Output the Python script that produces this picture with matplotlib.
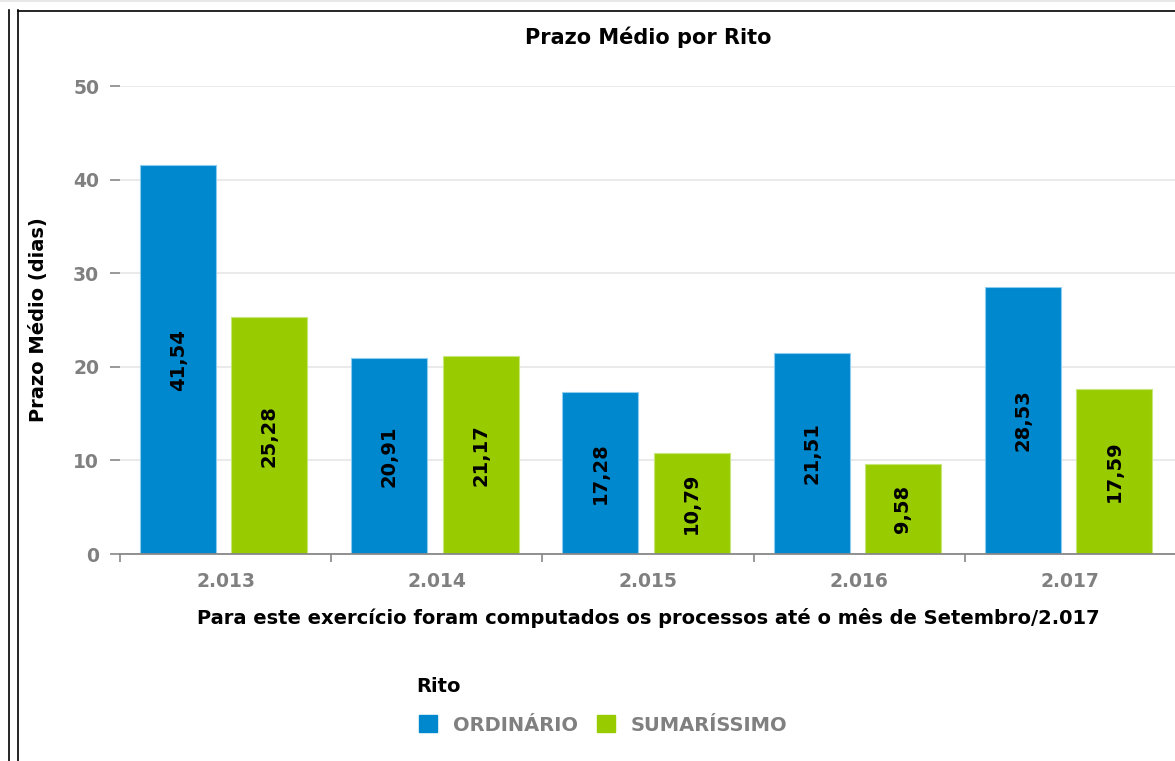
import matplotlib
matplotlib.use("Agg")
import matplotlib.pyplot as plt
from matplotlib.lines import Line2D
from matplotlib.patches import Patch
import numpy as np

# Data
years = ["2.013", "2.014", "2.015", "2.016", "2.017"]
ordinario = [41.54, 20.91, 17.28, 21.51, 28.53]
sumarissimo = [25.28, 21.17, 10.79, 9.58, 17.59]
series_names = ["ORDINÁRIO", "SUMARÍSSIMO"]
yticks = [0, 10, 20, 30, 40, 50]

W, H = 1175, 761
fig = plt.figure(figsize=(W / 100, H / 100), dpi=100)
fig.patch.set_facecolor("white")

# axes placement in pixels
left_px, right_px, top_px, bottom_px = 120, 1176, 86, 554
ax = fig.add_axes([left_px / W, 1 - bottom_px / H,
                   (right_px - left_px) / W, (bottom_px - top_px) / H])
ax.set_facecolor("white")

blue = "#0088cf"
green = "#99cc00"
x = np.arange(len(years))
bw = 0.36
b1 = ax.bar(x - 0.225, ordinario, bw, color=blue, edgecolor="#8fcdee", linewidth=0.8, zorder=3)
b2 = ax.bar(x + 0.207, sumarissimo, bw, color=green, edgecolor="#c6e67a", linewidth=0.8, zorder=3)

def fmt(v):
    return f"{v:.2f}".replace(".", ",")

for bars, vals in ((b1, ordinario), (b2, sumarissimo)):
    for rect, v in zip(bars, vals):
        ax.text(rect.get_x() + rect.get_width() / 2, v / 2, fmt(v),
                rotation=90, ha="center", va="center", fontsize=14,
                fontweight="bold", color="black", zorder=4)

ax.set_xlim(-0.5, 4.5)
ax.set_ylim(0, 50)
ax.set_yticks(yticks)
ax.set_yticklabels([str(t) for t in yticks])
ax.yaxis.grid(True, color="#e6e6e6", linewidth=1.2, zorder=0)
ax.set_axisbelow(True)

for s in ["top", "right", "left"]:
    ax.spines[s].set_visible(False)
ax.spines["bottom"].set_color("#888888")
ax.spines["bottom"].set_linewidth(1.3)
ax.spines["bottom"].set_zorder(5)

ax.tick_params(axis="y", length=7, width=1.2, color="#888888", pad=8,
               labelsize=13.5, labelcolor="#808080")
for lbl in ax.get_yticklabels():
    lbl.set_fontweight("bold")

ax.set_xticks(x)
ax.set_xticklabels(years)
ax.set_xticks(np.arange(-0.5, 5.0, 1.0), minor=True)
ax.tick_params(axis="x", which="major", length=0, pad=13, labelsize=13.5, labelcolor="#808080")
ax.tick_params(axis="x", which="minor", length=6, width=1.2, color="#888888")
for lbl in ax.get_xticklabels():
    lbl.set_fontweight("bold")

ax.set_title("Prazo Médio por Rito", fontsize=15, fontweight="bold", pad=30)
ax.set_xlabel("Para este exercício foram computados os processos até o mês de Setembro/2.017",
              fontsize=14, fontweight="bold", labelpad=12)
ax.set_ylabel("Prazo Médio (dias)", fontsize=14, fontweight="bold", labelpad=18)

fig.text(416 / W, 1 - 686 / H, "Rito", fontsize=14, fontweight="bold",
         ha="left", va="center")
handles = [Patch(facecolor=blue, edgecolor=blue), Patch(facecolor=green, edgecolor=green)]
leg = fig.legend(handles, series_names, loc="center left",
                 bbox_to_anchor=(401 / W, 1 - 725 / H), ncol=2, frameon=False,
                 handlelength=0.95, handleheight=0.95, handletextpad=0.8, columnspacing=1.0,
                 prop={"size": 14, "weight": "bold"})
for t in leg.get_texts():
    t.set_color("#808080")

# frame lines
def fig_line(x0, y0, x1, y1, color, lw):
    fig.add_artist(Line2D([x0 / W, x1 / W], [1 - y0 / H, 1 - y1 / H],
                          color=color, linewidth=lw, transform=fig.transFigure))

fig_line(0, 1, W, 1, "#e8e8e8", 1.5)
fig_line(8.5, 10, 8.5, H, "black", 1.2)
fig_line(17.5, 10, 17.5, H, "black", 1.2)
fig_line(17.5, 10.5, W, 10.5, "black", 1.2)

fig.savefig("out.png", dpi=100, facecolor="white")
